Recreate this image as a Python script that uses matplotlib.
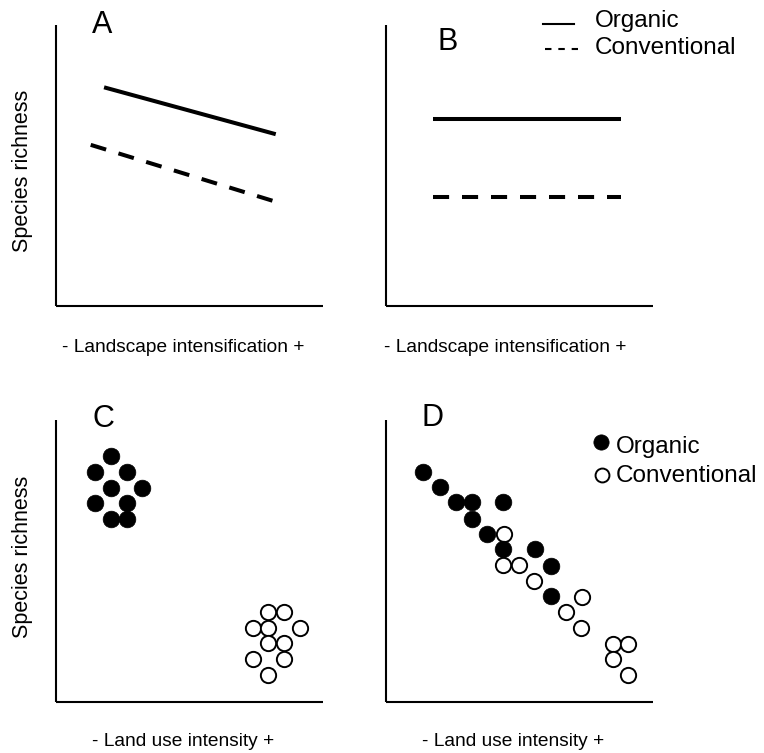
import matplotlib
matplotlib.use("Agg")
import matplotlib.pyplot as plt
from matplotlib.lines import Line2D
from matplotlib.transforms import Affine2D

plt.rcParams["font.family"] = ["Liberation Sans", "DejaVu Sans"]

# ---- data (arbitrary 0-100 units) ----
# Panel A: species richness declines with landscape intensification
a_x = [18.0, 82.3]
a_organic = [77.8, 61.1]
a_conv_x = [13.0, 81.4]
a_conventional = [57.3, 37.3]

# Panel B: no effect of landscape intensification
b_x = [17.7, 88.0]
b_organic = [66.6, 66.6]
b_conventional = [38.8, 38.8]

# Panel C: organic vs conventional fields, separated along land use intensity
c_org_x = [20.6, 14.6, 26.5, 20.6, 32.3, 14.6, 26.5, 20.6, 26.5]
c_org_y = [87.3, 81.6, 81.6, 76.0, 76.0, 70.6, 70.6, 65.0, 65.0]
c_conv_x = [79.5, 85.4, 73.7, 79.5, 91.4, 79.5, 85.4, 73.7, 85.4, 79.5]
c_conv_y = [31.8, 31.8, 26.2, 26.2, 26.2, 20.7, 20.7, 15.2, 15.2, 9.3]

# Panel D: organic and conventional fields overlapping along a gradient
d_org_x = [14.0, 20.2, 26.1, 32.1, 43.9, 32.1, 37.9, 43.9, 55.8, 61.7, 61.7]
d_org_y = [81.6, 76.3, 70.7, 70.7, 70.7, 64.8, 59.4, 54.0, 54.0, 48.0, 37.4]
d_conv_x = [44.2, 43.9, 49.8, 55.4, 73.3, 67.3, 73.0, 84.9, 90.7, 84.9, 90.7]
d_conv_y = [59.4, 48.4, 48.4, 42.8, 37.1, 31.8, 26.2, 20.5, 20.5, 15.2, 9.3]

panel_letters = ["A", "B", "C", "D"]
ylabel = "Species richness"
xlabel_top = "- Landscape intensification +"
xlabel_bottom = "- Land use intensity +"
series_names = ["Organic", "Conventional"]

# ---- layout helpers (pixel positions on a 764 x 753 canvas) ----
W, H = 764, 753
fig = plt.figure(figsize=(W / 100, H / 100), dpi=100)
px = Affine2D().scale(1 / W, -1 / H).translate(0, 1) + fig.transFigure


def add_panel(left, right, top, bottom):
    ax = fig.add_axes([left / W, 1 - bottom / H, (right - left) / W, (bottom - top) / H])
    ax.set_xlim(0, 100)
    ax.set_ylim(0, 100)
    for side in ("top", "right"):
        ax.spines[side].set_visible(False)
    for side in ("left", "bottom"):
        ax.spines[side].set_linewidth(1.5)
        ax.spines[side].set_capstyle("butt")
    ax.set_xticks([])
    ax.set_yticks([])
    ax.patch.set_alpha(0)
    return ax


axA = add_panel(56, 323, 25, 305.7)
axB = add_panel(386, 653, 25, 305.7)
axC = add_panel(56, 323, 420, 701.5)
axD = add_panel(386, 653, 420, 701.5)

LW = 2.9
DASH = (4.0, 3.2)
line_kw = dict(color="black", lw=LW, solid_capstyle="butt", dash_capstyle="butt")

axA.plot(a_x, a_organic, **line_kw)
axA.plot(a_conv_x, a_conventional, dashes=DASH, **line_kw)

axB.plot(b_x, b_organic, **line_kw)
axB.plot(b_x, b_conventional, dashes=DASH, **line_kw)

filled_kw = dict(ls="none", marker="o", ms=12, mfc="black", mec="black", mew=0.5, clip_on=False)
open_kw = dict(ls="none", marker="o", ms=11, mfc="white", mec="black", mew=1.4, clip_on=False)

axC.plot(c_org_x, c_org_y, **filled_kw)
axC.plot(c_conv_x, c_conv_y, **open_kw)

axD.plot(d_conv_x, d_conv_y, **open_kw)
axD.plot(d_org_x, d_org_y, **filled_kw)

# ---- panel letters ----
letter_pos = [(102, 33), (448, 50), (103, 427), (433, 426)]
for letter, (x, y) in zip(panel_letters, letter_pos):
    fig.text(x, y, letter, transform=px, ha="center", va="baseline", fontsize=22)

# ---- axis labels ----
fig.text(62, 352, xlabel_top, transform=px, ha="left", va="baseline", fontsize=13.8)
fig.text(384, 352, xlabel_top, transform=px, ha="left", va="baseline", fontsize=13.8)
fig.text(92, 746, xlabel_bottom, transform=px, ha="left", va="baseline", fontsize=13.8)
fig.text(422, 746, xlabel_bottom, transform=px, ha="left", va="baseline", fontsize=13.8)

fig.text(23, 171, ylabel, transform=px, ha="center", va="center", rotation=90, fontsize=15.5)
fig.text(23, 557, ylabel, transform=px, ha="center", va="center", rotation=90, fontsize=15.5)

# ---- key for the line panels ----
fig.add_artist(Line2D([543, 574], [24, 24], transform=px, color="black", lw=1.5))
fig.add_artist(Line2D([545, 578], [49, 49], transform=px, color="black", lw=1.5,
                      dashes=(3.1, 3.3), dash_capstyle="butt"))
fig.text(595, 27, series_names[0], transform=px, ha="left", va="baseline", fontsize=17.5)
fig.text(595, 54, series_names[1], transform=px, ha="left", va="baseline", fontsize=17.5)

# ---- key for the point panels ----
fig.add_artist(Line2D([601], [442], transform=px, ls="none", marker="o", ms=11,
                      mfc="black", mec="black", mew=0.5))
fig.add_artist(Line2D([602], [475], transform=px, ls="none", marker="o", ms=10,
                      mfc="white", mec="black", mew=1.4))
fig.text(616, 453, series_names[0], transform=px, ha="left", va="baseline", fontsize=17.5)
fig.text(616, 482, series_names[1], transform=px, ha="left", va="baseline", fontsize=17.5)

fig.savefig("out.png", dpi=100)
